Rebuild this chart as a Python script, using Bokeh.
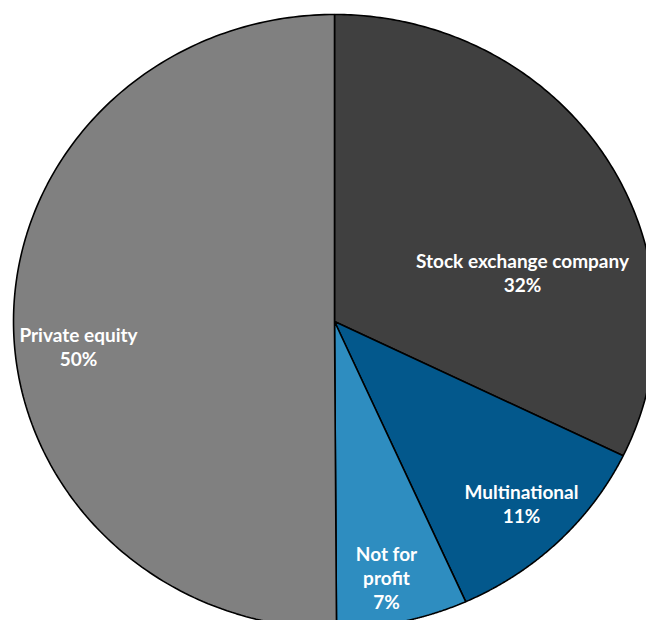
import numpy as np
from bokeh.plotting import figure
from bokeh.models import Range1d, ColumnDataSource
from bokeh.core.properties import value
from bokeh.embed import file_html
from bokeh.resources import INLINE

# --- data (clockwise from 12 o'clock) ---
categories = ["Stock exchange company", "Multinational", "Not for profit", "Private equity"]
shares = [32.2, 11.1, 6.6, 50.1]
pct_labels = ["32%", "11%", "7%", "50%"]
colors = ["#404040", "#03588C", "#2E8DC0", "#808080"]

# label line breaks as shown in the chart
label_lines = [["Stock exchange company", "32%"],
               ["Multinational", "11%"],
               ["Not for", "profit", "7%"],
               ["Private equity", "50%"]]
# label anchor (centre of first line) in pixel offsets from pie centre
label_pos = [(188, 61), (187, -170), (52, -232), (-256, -13)]
LINE_STEP = 24

RX, RY = 321, 307  # pie is slightly stretched horizontally

W, H = 646, 620
CX, CY = 334, 321  # pie centre within figure (px from left/top)

p = figure(width=W, height=H, output_backend="svg", toolbar_location=None,
           x_range=Range1d(-CX, W - CX), y_range=Range1d(-(H - CY), CY),
           min_border=0)
p.axis.visible = False
p.grid.visible = False
p.outline_line_color = None
p.background_fill_color = "white"
p.border_fill_color = "white"

total = sum(shares)
cum = np.cumsum([0] + shares) / total
xs, ys = [], []
for i in range(len(shares)):
    a = np.linspace(cum[i], cum[i + 1], 200) * 2 * np.pi  # clockwise from top
    x = np.concatenate([[0], RX * np.sin(a), [0]])
    y = np.concatenate([[0], RY * np.cos(a), [0]])
    xs.append(list(x))
    ys.append(list(y))

src = ColumnDataSource(dict(xs=xs, ys=ys, color=colors, name=categories))
p.patches("xs", "ys", source=src, fill_color="color", line_color="black", line_width=1.6)

tx, ty, tt = [], [], []
for lines, (lx, ly) in zip(label_lines, label_pos):
    for k, ln in enumerate(lines):
        tx.append(lx)
        ty.append(ly - k * LINE_STEP)
        tt.append(ln)
p.text(x=tx, y=ty, text=tt, text_color="white", text_font=value("Lato"),
       text_font_style="bold", text_font_size="19px",
       text_align="center", text_baseline="middle")

open("out.html", "w").write(file_html(p, INLINE))
